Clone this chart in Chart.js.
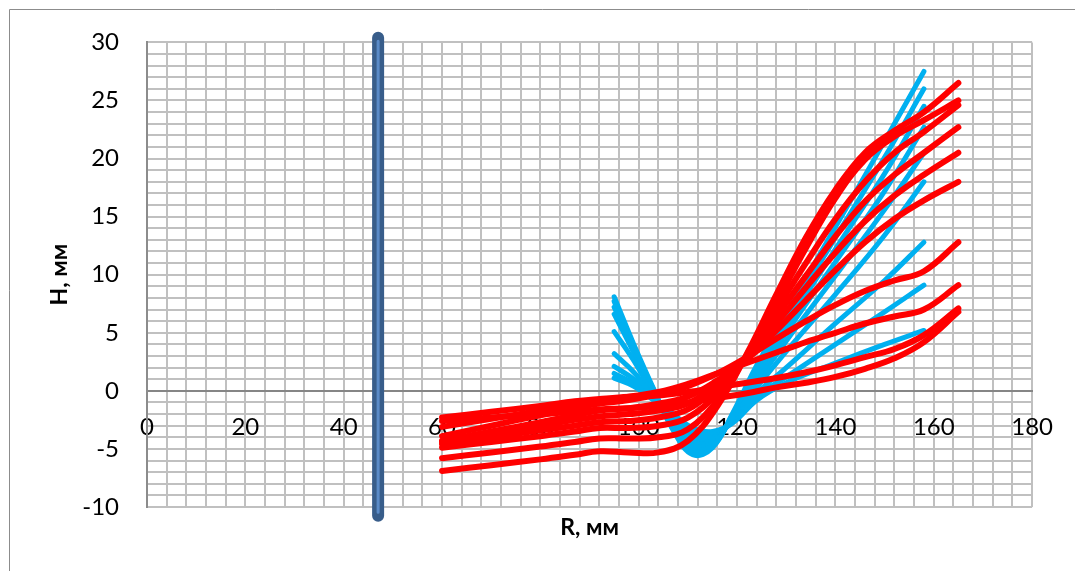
<!DOCTYPE html>
<html>
<head>
<meta charset="utf-8">
<script src="https://cdn.jsdelivr.net/npm/chart.js@4.4.1/dist/chart.umd.min.js"></script>
<style>
  html, body { margin: 0; padding: 0; background: #fff; }
</style>
</head>
<body>
<canvas id="chart" width="1075" height="571"></canvas>
<script>
// tick labels
const xLabels = [0, 20, 40, 60, 80, 100, 120, 140, 160, 180];
const yLabels = [-10, -5, 0, 5, 10, 15, 20, 25, 30];

// blue family (R, mm / H, mm)
const blueR = [95, 99, 103, 107, 111, 115, 119, 124, 130, 140, 150, 158];
const blueH = [
  [8.1, 4.0, 0.2, -3.4, -5.5, -4.9, -2.0, 2.2, 6.7, 14.1, 21.5, 27.5],
  [7.7, 3.8, 0.1, -3.3, -5.3, -4.8, -2.1, 1.9, 6.2, 13.2, 20.1, 26.0],
  [7.2, 3.6, 0.0, -3.1, -5.0, -4.7, -2.2, 1.5, 5.6, 12.2, 18.7, 24.5],
  [6.6, 3.3, -0.1, -2.9, -4.7, -4.5, -2.3, 1.1, 5.0, 11.1, 17.2, 22.7],
  [5.1, 2.6, -0.3, -2.8, -4.4, -4.3, -2.4, 0.7, 4.3, 9.9, 15.6, 20.5],
  [3.2, 1.6, -0.5, -2.6, -4.1, -4.1, -2.5, 0.3, 3.4, 8.3, 13.4, 18.0],
  [2.1, 1.0, -0.6, -2.4, -3.8, -3.9, -2.6, -0.2, 2.0, 5.8, 9.5, 12.8],
  [1.1, 0.4, -0.8, -2.2, -3.5, -3.7, -2.7, -0.5, 1.2, 4.0, 6.8, 9.1],
  [1.5, 0.6, -0.7, -2.0, -3.2, -3.5, -2.8, -0.8, 0.7, 2.4, 4.0, 5.2]
];

// red family
const redR = [60, 70, 80, 87, 92, 98, 104, 110, 116, 122, 128, 134, 140, 146, 152, 158, 165];
const redH = [
  [-6.9, -6.4, -5.9, -5.5, -5.2, -5.3, -5.3, -4.3, -1.3, 3.2, 8.3, 13.2, 17.3, 20.5, 22.4, 24.0, 26.5],
  [-5.8, -5.3, -4.8, -4.4, -4.1, -4.1, -4.0, -3.3, -0.8, 3.1, 7.6, 12.3, 16.6, 19.9, 21.9, 23.3, 25.0],
  [-4.9, -4.4, -3.9, -3.5, -3.2, -3.2, -3.0, -2.3, -0.2, 3.0, 7.0, 11.0, 14.8, 18.0, 20.5, 22.3, 24.6],
  [-4.6, -4.0, -3.4, -3.0, -2.7, -2.6, -2.3, -1.6, 0.3, 2.9, 6.4, 9.9, 13.3, 16.3, 18.6, 20.5, 22.7],
  [-4.4, -3.7, -3.0, -2.5, -2.2, -2.0, -1.7, -1.1, 0.6, 2.8, 5.8, 8.9, 11.9, 14.6, 16.8, 18.6, 20.5],
  [-4.3, -3.5, -2.7, -2.1, -1.7, -1.5, -1.1, -0.5, 0.9, 2.7, 5.2, 7.8, 10.4, 12.8, 14.8, 16.4, 18.0],
  [-3.9, -3.0, -2.1, -1.5, -1.1, -0.8, -0.3, 0.4, 1.5, 2.9, 4.5, 6.0, 7.4, 8.6, 9.5, 10.3, 12.8],
  [-3.1, -2.4, -1.7, -1.2, -0.9, -0.5, -0.1, 0.6, 1.5, 2.4, 3.3, 4.2, 5.0, 5.8, 6.4, 7.0, 9.1],
  [-2.3, -1.8, -1.3, -0.9, -0.7, -0.5, -0.4, -0.1, 0.3, 0.7, 1.1, 1.6, 2.2, 2.9, 3.6, 4.8, 7.1],
  [-2.6, -2.3, -2.0, -1.8, -1.6, -1.5, -1.3, -1.0, -0.6, -0.2, 0.3, 0.7, 1.2, 1.9, 2.8, 4.2, 6.8]
];

// vertical wall at R = 47
const wallR = [47, 47];
const wallH = [30.4, -10.75];

function pts(xs, ys) {
  return xs.map((x, i) => ({ x: x, y: ys[i] }));
}

function curve(xs, ys, color, width) {
  return {
    data: pts(xs, ys),
    borderColor: color,
    borderWidth: width,
    borderCapStyle: 'round',
    borderJoinStyle: 'round',
    pointRadius: 0,
    tension: 0.4,
    fill: false
  };
}

const framePlugin = {
  id: 'frame',
  beforeDraw(chart) {
    const ctx = chart.ctx;
    ctx.save();
    ctx.fillStyle = '#fff';
    ctx.fillRect(0, 0, chart.width, chart.height);
    ctx.restore();
  },
  afterDraw(chart) {
    const ctx = chart.ctx;
    const a = chart.chartArea;
    ctx.save();
    ctx.strokeStyle = '#8c8c8c';
    ctx.lineWidth = 1;
    ctx.beginPath();
    ctx.moveTo(9.5, chart.height);
    ctx.lineTo(9.5, 9.5);
    ctx.lineTo(chart.width, 9.5);
    ctx.stroke();

    ctx.fillStyle = '#000';
    ctx.font = 'bold 23px Lato';
    ctx.textAlign = 'center';
    ctx.textBaseline = 'middle';
    ctx.fillText('R, мм', (a.left + a.right) / 2, 528);
    ctx.translate(60, (a.top + a.bottom) / 2);
    ctx.rotate(-Math.PI / 2);
    ctx.fillText('H, мм', 0, 0);
    ctx.restore();
  }
};

function build() {
  const datasets = [];
  redH.forEach(h => datasets.push(curve(redR, h, '#ff0000', 6)));
  const wall = curve(wallR, wallH, '#385d8a', 12);
  wall.clip = false;
  wall.tension = 0;
  datasets.push(wall);
  const wallLight = curve(wallR, [wallH[0] - 0.3, wallH[1] + 0.3], '#5a8bc8', 3);
  wallLight.clip = false;
  wallLight.tension = 0;
  datasets.unshift(wallLight);
  blueH.forEach(h => datasets.push(curve(blueR, h, '#00b0f0', 5)));

  new Chart(document.getElementById('chart'), {
    type: 'line',
    data: { datasets: datasets },
    plugins: [framePlugin],
    options: {
      responsive: false,
      animation: false,
      devicePixelRatio: 1,
      layout: { padding: { left: 0, top: 40, right: 38, bottom: 64 } },
      plugins: { legend: { display: false }, tooltip: { enabled: false } },
      scales: {
        x: {
          type: 'linear',
          min: 0,
          max: 180,
          position: { y: 0 },
          grid: { color: '#c0c0c0', lineWidth: 2, drawTicks: false },
          border: { color: '#868686', width: 2 },
          ticks: {
            stepSize: 4,
            autoSkip: false,
            maxRotation: 0,
            padding: 22,
            color: '#000',
            font: { family: 'Lato', size: 24 },
            callback: v => xLabels.includes(v) ? String(v) : ''
          }
        },
        y: {
          type: 'linear',
          min: -10,
          max: 30,
          grid: { color: '#c0c0c0', lineWidth: 2, drawTicks: false },
          border: { color: '#8c8c8c', width: 2 },
          afterFit(scale) { scale.width = 147; },
          ticks: {
            stepSize: 1,
            autoSkip: false,
            padding: 28,
            color: '#000',
            font: { family: 'Lato', size: 24 },
            callback: v => yLabels.includes(v) ? String(v) : ''
          }
        }
      }
    }
  });
}

Promise.all([
  document.fonts.load('24px Lato'),
  document.fonts.load('bold 23px Lato')
]).then(build, build);
</script>
</body>
</html>
